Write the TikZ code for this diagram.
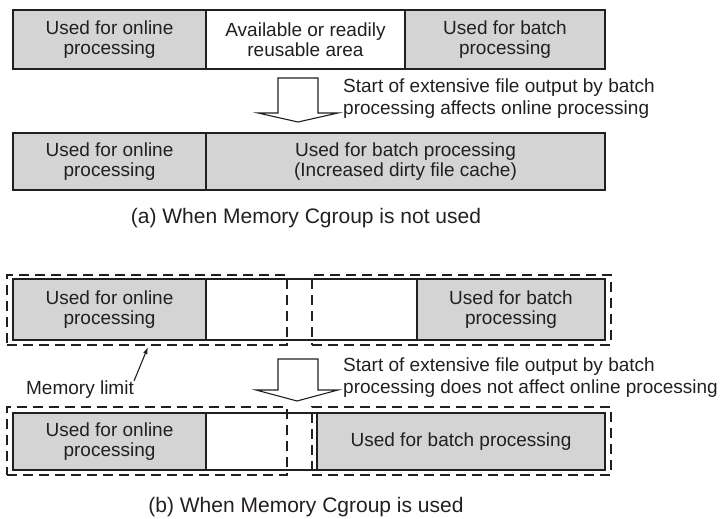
\documentclass[tikz,border=0pt]{standalone}
\usepackage{fontspec}
\setmainfont{Liberation Sans}
\usetikzlibrary{arrows.meta}
\definecolor{ink}{HTML}{231F20}
\definecolor{cellgray}{RGB}{212,212,212}
\begin{document}
\begin{tikzpicture}[x=1pt,y=-1pt,
  cell/.style={draw=ink, line width=1.1pt, inner sep=0pt, align=center, text=ink,
    font=\fontsize{19}{20.5}\selectfont},
  used/.style={cell, fill=cellgray},
  free/.style={cell, fill=white},
  limitbox/.style={draw=ink, line width=2.4pt, dash pattern=on 10pt off 6pt, inner sep=0pt},
  note/.style={text=ink, align=left, inner sep=0pt, font=\fontsize{19}{22}\selectfont},
  caption/.style={text=ink, inner sep=0pt, font=\fontsize{21}{24}\selectfont},
  blockarrow/.style={draw=ink, fill=white, line width=1.1pt, line join=miter},
  pointer/.style={draw=ink, line width=1.1pt, -{Latex[length=7pt,width=4.5pt]}}]

\useasboundingbox (0,0) rectangle (723,519);

% ---------- (a) ----------
\node[used, minimum width=193pt, minimum height=59pt] (a1on) at (109.5,39.5) {Used for online\\processing};
\node[free, minimum width=199pt, minimum height=59pt] (a1free) at (305.5,39.5) {Available or readily\\reusable area};
\node[used, minimum width=200pt, minimum height=59pt] (a1batch) at (505,39.5) {Used for batch\\processing};

\draw[blockarrow] (278,78) -- (318,78) -- (318,113) -- (338,113) -- (298,122) -- (258,113) -- (278,113) -- cycle;
\node[note, anchor=west] (a-note) at (343,99) {Start of extensive file output by batch\\processing affects online processing};

\node[used, minimum width=193pt, minimum height=57pt] (a2on) at (109.5,161.5) {Used for online\\processing};
\node[used, minimum width=399pt, minimum height=57pt] (a2batch) at (405.5,161.5) {Used for batch processing\\(Increased dirty file cache)};

\node[caption] (capa) at (306,218) {(a) When Memory Cgroup is not used};

% ---------- (b) ----------
\node[used, minimum width=193pt, minimum height=61pt] (b1on) at (109.5,309.5) {Used for online\\processing};
\node[free, minimum width=211pt, minimum height=61pt] (b1free) at (311.5,309.5) {};
\node[used, minimum width=188pt, minimum height=61pt] (b1batch) at (511,309.5) {Used for batch\\processing};

\node[limitbox, minimum width=280pt, minimum height=70pt] (b1left) at (147,310) {};
\node[limitbox, minimum width=299pt, minimum height=70pt] (b1right) at (461.5,310) {};

\node[note, anchor=west] (b-note) at (343,378) {Start of extensive file output by batch\\processing does not affect online processing};
\node[note] (ml) at (80,390) {Memory limit};
\coordinate (mltip) at (148,347);
\draw[pointer] (ml.north east) -- (mltip);

\draw[blockarrow] (278,359) -- (318,359) -- (318,390) -- (338,390) -- (297,401) -- (256,390) -- (278,390) -- cycle;

\node[used, minimum width=193pt, minimum height=57pt] (b2on) at (109.5,441.5) {Used for online\\processing};
\node[free, minimum width=111pt, minimum height=57pt] (b2free) at (261.5,441.5) {};
\node[used, minimum width=288pt, minimum height=57pt] (b2batch) at (461,441.5) {Used for batch processing};

\node[limitbox, minimum width=280pt, minimum height=68pt] (b2left) at (147,441) {};
\node[limitbox, minimum width=299pt, minimum height=68pt] (b2right) at (461.5,441) {};

\node[caption] (capb) at (306,507) {(b) When Memory Cgroup is used};
\end{tikzpicture}
\end{document}
